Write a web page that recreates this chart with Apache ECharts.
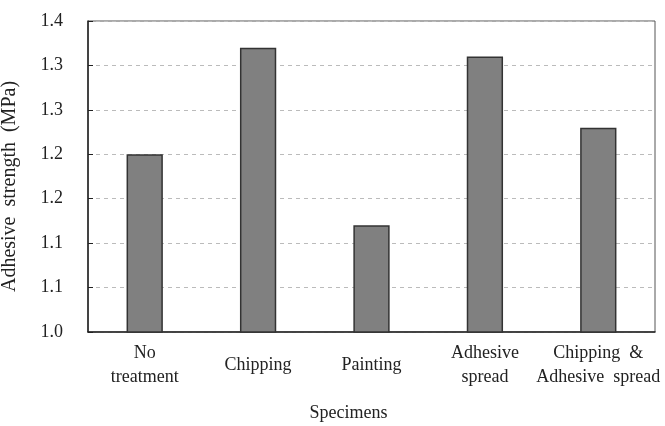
<!DOCTYPE html>
<html>
<head>
<meta charset="utf-8">
<script src="https://cdn.jsdelivr.net/npm/echarts@6/dist/echarts.min.js"></script>
<style>html,body{margin:0;padding:0;background:#fff;}#c{width:665px;height:426px;}</style>
</head>
<body>
<div id="c"></div>
<script>
var categories = ["No\ntreatment", "Chipping", "Painting", "Adhesive\nspread", "Chipping  &\nAdhesive  spread"];
var strengthValues = [1.20, 1.32, 1.12, 1.31, 1.23];
var yTickLabels = ["1.0", "1.1", "1.1", "1.2", "1.2", "1.3", "1.3", "1.4"];
var yMin = 1.0, yMax = 1.35, yStep = 0.05;
var xTitle = "Specimens";
var yTitle = "Adhesive  strength  (MPa)";

var font = "'Liberation Serif', 'Times New Roman', serif";
var chart = echarts.init(document.getElementById('c'), null, {renderer: 'canvas'});
chart.setOption({
  animation: false,
  backgroundColor: '#fff',
  grid: {left: 88, right: 10, top: 21, bottom: 94, show: true, borderColor: '#555', borderWidth: 1, containLabel: false, outerBoundsMode: 'none'},
  xAxis: {
    type: 'category',
    data: categories,
    name: xTitle,
    nameLocation: 'middle',
    nameGap: 72,
    nameTextStyle: {fontFamily: font, fontSize: 18, color: '#222', padding: [0, 46, 0, 0]},
    axisLine: {show: true, lineStyle: {color: '#222', width: 1.5}},
    axisTick: {show: false},
    axisLabel: {fontFamily: font, fontSize: 18, color: '#222', lineHeight: 24, verticalAlign: 'middle', margin: 33, interval: 0, hideOverlap: false}
  },
  yAxis: {
    type: 'value',
    min: yMin, max: yMax, interval: yStep,
    name: yTitle,
    nameLocation: 'middle',
    nameRotate: 90,
    nameGap: 68,
    nameTextStyle: {fontFamily: font, fontSize: 20, color: '#222', padding: [0, 20, 0, 0]},
    axisLine: {show: true, lineStyle: {color: '#222', width: 1.5}},
    axisTick: {show: true, inside: true, length: 5, lineStyle: {color: '#222', width: 1}},
    axisLabel: {fontFamily: font, fontSize: 18, color: '#222', margin: 25,
      formatter: function (v) { return yTickLabels[Math.round((v - yMin) / yStep)]; }},
    splitLine: {show: true, lineStyle: {color: '#bbb', type: [4, 4], width: 1}}
  },
  series: [{
    type: 'bar',
    data: strengthValues,
    barWidth: '32%',
    itemStyle: {color: '#808080', borderColor: '#333', borderWidth: 1.5}
  }]
});
</script>
</body>
</html>
